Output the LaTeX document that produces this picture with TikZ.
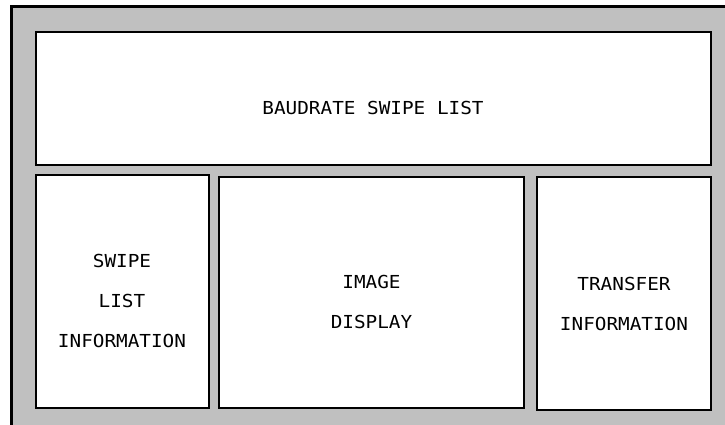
\documentclass[tikz,border=0pt]{standalone}
\usepackage{fontspec}
\setmonofont[FakeStretch=1.08]{DejaVu Sans Mono}
\definecolor{panelgray}{RGB}{192,192,192}
\begin{document}
\begin{tikzpicture}[x=1pt,y=-1pt,
  panel/.style={draw=black,line width=2pt,fill=white,inner sep=0pt},
  lbl/.style={font=\ttfamily\fontsize{17.9}{40}\selectfont,align=center,inner sep=0pt}]
\useasboundingbox (0,0) rectangle (725,425);
\fill[white] (0,0) rectangle (725,425);
\draw[line width=3pt,fill=panelgray] (11,7) rectangle (760,460);
\node[panel,minimum width=675pt,minimum height=133pt] (top) at (373,98.5) {};
\node[panel,minimum width=173pt,minimum height=233pt] (left) at (122,291.5) {};
\node[panel,minimum width=305pt,minimum height=231pt] (mid) at (371.5,292.5) {};
\node[panel,minimum width=174pt,minimum height=233pt] (right) at (624,293.5) {};
\node[lbl] (ttop) at ([yshift=-9pt]top.center) {BAUDRATE SWIPE LIST};
\node[lbl] (tleft) at ([yshift=-9pt]left.center) {SWIPE\\LIST\\INFORMATION};
\node[lbl] (tmid) at ([yshift=-9pt]mid.center) {IMAGE\\DISPLAY};
\node[lbl] (tright) at ([yshift=-10pt]right.center) {TRANSFER\\INFORMATION};
\end{tikzpicture}
\end{document}
